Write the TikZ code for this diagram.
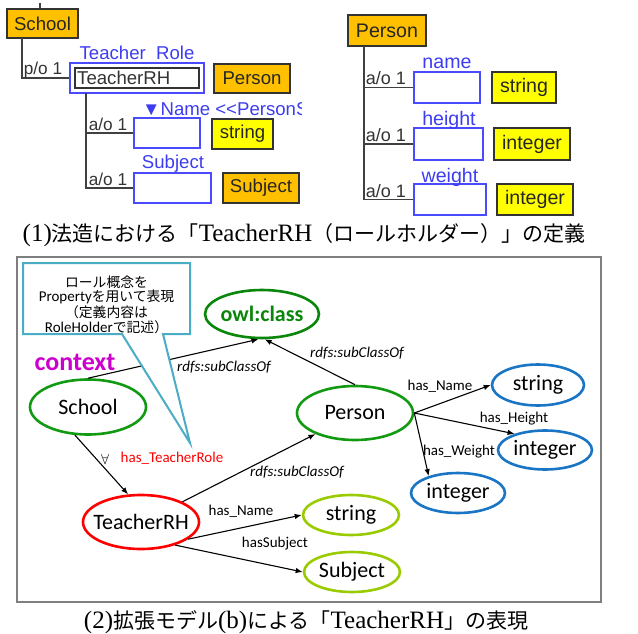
\documentclass[tikz,border=0pt]{standalone}
\usepackage{fontspec}
\setmainfont{Carlito}
\newfontfamily\arialf{Liberation Sans}
\newfontfamily\cjk{Noto Sans CJK JP}
\newfontfamily\cjks[Scale=0.92]{Noto Sans CJK JP}
\newfontfamily\serifcap{Liberation Serif}
\usetikzlibrary{shapes.geometric,arrows.meta}
\definecolor{orng}{HTML}{FFC000}
\definecolor{yel}{HTML}{FFFF00}
\definecolor{bbox}{HTML}{4A4AFF}
\definecolor{btxt}{HTML}{3C3CF2}
\definecolor{dgreen}{HTML}{0A870A}
\definecolor{mgreen}{HTML}{129A12}
\definecolor{limeg}{HTML}{99CC00}
\definecolor{oblue}{HTML}{1A75C4}
\definecolor{calloutc}{HTML}{4BACC6}
\definecolor{ctx}{HTML}{CC00CC}
\definecolor{boxline}{HTML}{333333}
\definecolor{framec}{HTML}{7F7F7F}
\newcommand\capL[1]{{\serifcap\fontsize{25}{27}\selectfont #1}}
\newcommand\capJ[1]{{\cjk\fontsize{21}{24}\selectfont #1}}
\begin{document}
\begin{tikzpicture}[x=1pt,y=-1pt,
  fL/.style={font=\arialf\fontsize{18.6}{20}\selectfont},
  fR/.style={font=\arialf\fontsize{19.6}{21}\selectfont},
  obox/.style={draw=boxline,line width=1.3pt,fill=orng,inner sep=0pt,text=black!85},
  ybox/.style={draw=boxline,line width=1.3pt,fill=yel,inner sep=0pt,text=black!85},
  bluebox/.style={draw=bbox,line width=1.4pt,fill=white,inner sep=0pt},
  inbox/.style={draw=boxline,line width=1.2pt,inner sep=0pt},
  bluelbl/.style={text=btxt,inner sep=0pt},
  treelbl/.style={text=black!80,inner sep=0pt,font=\arialf\fontsize{17.2}{19}\selectfont},
  tree/.style={draw=black!75,line width=1.2pt},
  ell/.style={ellipse,draw,line width=2.6pt,inner sep=0pt,fill=white},
  etxt/.style={font=\fontsize{22}{24}\selectfont,inner sep=0pt},
  arr/.style={-{Latex[length=7pt,width=5.5pt]},line width=1.1pt},
  elbl/.style={font=\fontsize{15}{17}\selectfont,inner sep=0pt},
  ilbl/.style={font=\itshape\fontsize{15}{17}\selectfont,inner sep=0pt},
  ctext/.style={font=\fontsize{15}{17}\selectfont,inner sep=0pt},
  callout/.style={draw=calloutc,line width=2pt,fill=white},
  frame/.style={draw=framec,line width=1.5pt}
]
\useasboundingbox (0,0) rectangle (638,634);

% ---------- (1) top left ----------
\coordinate (tick1) at (40,3);
\node[obox,fL,minimum width=71,minimum height=29] (school) at (42.5,23.5) {School};
\draw[tree] (tick1) -- (school.north -| tick1);
\node[bluebox,minimum width=134,minimum height=30] (trh) at (137,78) {};
\node[inbox,minimum width=124,minimum height=20] (trhin) at (137,78) {};
\node[fL,text=black!80,inner sep=0pt,anchor=west] (trhtxt) at (77,78) {TeacherRH};
\node[bluelbl,fL] (trlbl) at (137,53) {Teacher\ \ Role};
\node[obox,fL,minimum width=76,minimum height=29] (personL) at (252,78.5) {Person};
\coordinate (t1) at (22,38);
\draw[tree] (t1) |- (trh.west);
\node[treelbl] (po) at (43,70) {p/o 1};
\node[bluebox,minimum width=66,minimum height=30] (nm) at (167,133) {};
\node[bluebox,minimum width=77,minimum height=30] (sb) at (172.5,188) {};
\coordinate (t2) at (86,93);
\draw[tree] (t2) |- (sb.west);
\draw[tree] (t2) |- (nm.west);
\node[treelbl] (ao1) at (108,124) {a/o 1};
\node[treelbl] (ao2) at (108,179) {a/o 1};
\node[ybox,fL,minimum width=61,minimum height=30] (strL) at (242.5,134) {string};
\node[obox,fL,minimum width=76,minimum height=30] (subjL) at (261,188) {Subject};
\begin{scope}
  \clip (0,92) rectangle (301,124);
  \node[bluelbl,fL,anchor=west] (nmlbl) at (142,109) {▼Name \textless\textless PersonS};
\end{scope}
\node[bluelbl,fL] (sblbl) at (173,164) {Subject};

% ---------- (1) top right ----------
\node[obox,fR,minimum width=78,minimum height=31] (personR) at (387,30.5) {Person};
\node[bluebox,minimum width=66,minimum height=31] (b1) at (447,87.5) {};
\node[bluebox,minimum width=69,minimum height=32] (b2) at (448.5,144) {};
\node[bluebox,minimum width=72,minimum height=31] (b3) at (450,199.5) {};
\coordinate (t3) at (364,46);
\draw[tree] (t3) |- (b3.west);
\draw[tree] (t3) |- (b2.west);
\draw[tree] (t3) |- (b1.west);
\node[treelbl,font=\arialf\fontsize{18}{20}\selectfont] (ar1) at (386,78) {a/o 1};
\node[treelbl,font=\arialf\fontsize{18}{20}\selectfont] (ar2) at (386,135) {a/o 1};
\node[treelbl,font=\arialf\fontsize{18}{20}\selectfont] (ar3) at (386,191) {a/o 1};
\node[bluelbl,fR] (l1) at (447,63) {name};
\node[bluelbl,fR] (l2) at (449,120) {height};
\node[bluelbl,fR] (l3) at (450,177) {weight};
\node[ybox,fR,minimum width=64,minimum height=31] (y1) at (524,87.5) {string};
\node[ybox,fR,minimum width=76,minimum height=32] (y2) at (532,144) {integer};
\node[ybox,fR,minimum width=76,minimum height=31] (y3) at (535,199.5) {integer};

% ---------- caption 1 ----------
\node[inner sep=0pt] (cap1) at (304,235) {\capL{(1)}\capJ{法造における「}\capL{TeacherRH}\capJ{（ロールホルダー）」の定義}};

% ---------- (2) frame ----------
\draw[frame] (17,257) rectangle (601,602);

% ellipses
\node[ell,draw=dgreen,minimum width=114,minimum height=48,
  label={[etxt,font=\bfseries\fontsize{22}{24}\selectfont,text=dgreen]center:owl:class}] (owl) at (262,314) {};
\node[ell,draw=mgreen,minimum width=116,minimum height=55,label={[etxt]center:School}] (sch) at (88,407) {};
\node[ell,draw=mgreen,minimum width=116,minimum height=54,label={[etxt]center:Person}] (per) at (355,413) {};
\node[ell,draw=red,minimum width=116,minimum height=54,label={[etxt]center:TeacherRH}] (trhe) at (141,522) {};
\node[ell,draw=oblue,minimum width=92,minimum height=41,label={[etxt]center:string}] (str1) at (538,385) {};
\node[ell,draw=oblue,minimum width=94,minimum height=39,label={[etxt]center:integer}] (int1) at (545,450) {};
\node[ell,draw=oblue,minimum width=94,minimum height=40,label={[etxt]center:integer}] (int2) at (458,493) {};
\node[ell,draw=limeg,minimum width=96,minimum height=40,label={[etxt]center:string}] (str2) at (351,515) {};
\node[ell,draw=limeg,minimum width=96,minimum height=40,label={[etxt]center:Subject}] (subj) at (352,572) {};

\node[font=\bfseries\fontsize{26}{28}\selectfont,text=ctx,inner sep=0pt] (ctxt) at (75,362) {context};

% arrows
\draw[arr] (sch.north) -- (owl.262);
\draw[arr] (per.north) -- (owl.276);
\draw[arr] (sch.245) -- (trhe.115);
\draw[arr] (trhe.26) -- (per.208);
\draw[arr] (trhe.340) -- (str2.west);
\draw[arr] (trhe.326) -- (subj.west);
\draw[arr] (per.east) -- (str1.west);
\draw[arr] (per.east) -- (int1.152);
\draw[arr] (per.east) -- (int2.150);

% labels
\node[ilbl] (lb1) at (224,367) {rdfs:subClassOf};
\node[ilbl] (lb2) at (357,353) {rdfs:subClassOf};
\node[ilbl] (lb3) at (297,472) {rdfs:subClassOf};
\node[elbl] (lb4) at (105,459) {$\forall$};
\node[elbl,text=red] (lb5) at (172,458) {has\_TeacherRole};
\node[elbl] (lb6) at (241,511) {has\_Name};
\node[elbl] (lb7) at (275,544) {hasSubject};
\node[elbl] (lb8) at (440,386) {has\_Name};
\node[elbl] (lb9) at (514,419) {has\_Height};
\node[elbl] (lb10) at (459,452) {has\_Weight};

% callout
\draw[callout] (122,334) -- (23,334) -- (23,263) -- (190,263) -- (190,334) -- (163,334) -- (190,443) -- cycle;
\node[ctext] (c1) at (106.5,282) {\cjks ロール概念を};
\node[ctext] (c2) at (106.5,297) {Property\cjks を用いて表現};
\node[ctext] (c3) at (106.5,312) {\cjks （定義内容は};
\node[ctext] (c4) at (106.5,327) {RoleHolder\cjks で記述）};

% ---------- caption 2 ----------
\node[inner sep=0pt] (cap2) at (306,622) {\capL{(2)}\capJ{拡張モデル}\capL{(b)}\capJ{による「}\capL{TeacherRH}\capJ{」の表現}};
\end{tikzpicture}
\end{document}
